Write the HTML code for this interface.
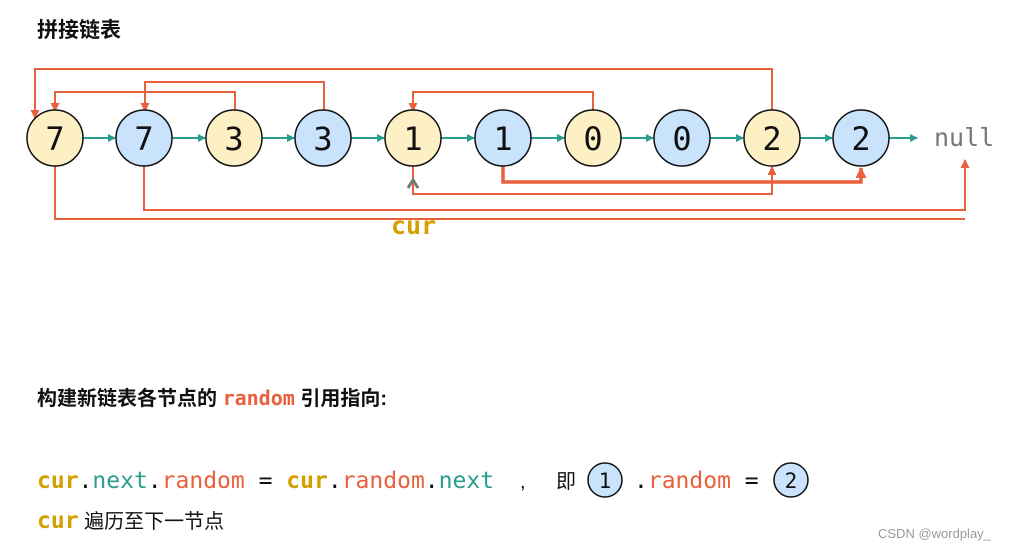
<!DOCTYPE html>
<html><head><meta charset="utf-8"><style>
html,body{margin:0;padding:0;background:#fff;}
svg{display:block;}
.m{font-family:"DejaVu Sans Mono","Liberation Mono",monospace;}
.c{font-family:"Liberation Sans","Noto Sans CJK SC",sans-serif;}
</style></head><body>
<svg width="1013" height="550" viewBox="0 0 1013 550" xmlns="http://www.w3.org/2000/svg">
<defs>
<marker id="g" markerWidth="8" markerHeight="8" refX="7" refY="4" orient="auto" markerUnits="userSpaceOnUse"><path d="M0,0 L8,4 L0,8z" fill="#2a9d8f"/></marker>
<marker id="r" markerWidth="9" markerHeight="9" refX="8" refY="4.5" orient="auto" markerUnits="userSpaceOnUse"><path d="M0,0 L9,4.5 L0,9z" fill="#e8603c"/></marker>
<marker id="rb" markerWidth="11" markerHeight="11" refX="10" refY="5.5" orient="auto" markerUnits="userSpaceOnUse"><path d="M0,0 L11,5.5 L0,11z" fill="#e8603c"/></marker>
</defs>
<text x="37" y="37" class="c" font-size="21" font-weight="bold" fill="#111">拼接链表</text>
<g fill="none" stroke="#e8603c" stroke-width="2">
<path d="M772,110 V69 H35 V118" marker-end="url(#r)"/>
<path d="M324,110 V82 H145 V111" marker-end="url(#r)"/>
<path d="M235,110 V92 H55 V111" marker-end="url(#r)"/>
<path d="M593,110 V92 H413 V111" marker-end="url(#r)"/>
<path d="M413,166 V194 H772 V167" marker-end="url(#r)"/>
<path d="M144,166 V210 H965 V160" marker-end="url(#r)"/>
<path d="M55,166 V219 H965"/>
<path d="M503,166 V182 H861 V168" stroke-width="3.5" marker-end="url(#rb)"/>
</g>
<path d="M408,188 L413,180 L418,188" fill="none" stroke="#777" stroke-width="3"/>
<g stroke="#2a9d8f" stroke-width="2">
<line x1="83" y1="138" x2="115" y2="138" marker-end="url(#g)"/>
<line x1="172" y1="138" x2="205" y2="138" marker-end="url(#g)"/>
<line x1="262" y1="138" x2="294" y2="138" marker-end="url(#g)"/>
<line x1="351" y1="138" x2="384" y2="138" marker-end="url(#g)"/>
<line x1="441" y1="138" x2="474" y2="138" marker-end="url(#g)"/>
<line x1="531" y1="138" x2="564" y2="138" marker-end="url(#g)"/>
<line x1="621" y1="138" x2="653" y2="138" marker-end="url(#g)"/>
<line x1="710" y1="138" x2="743" y2="138" marker-end="url(#g)"/>
<line x1="800" y1="138" x2="832" y2="138" marker-end="url(#g)"/>
<line x1="889" y1="138" x2="917" y2="138" marker-end="url(#g)"/>
</g>
<g stroke="#111" stroke-width="1.5">
<circle cx="55" cy="138" r="28" fill="#fdf0c4"/>
<circle cx="144" cy="138" r="28" fill="#c8e3fb"/>
<circle cx="234" cy="138" r="28" fill="#fdf0c4"/>
<circle cx="323" cy="138" r="28" fill="#c8e3fb"/>
<circle cx="413" cy="138" r="28" fill="#fdf0c4"/>
<circle cx="503" cy="138" r="28" fill="#c8e3fb"/>
<circle cx="593" cy="138" r="28" fill="#fdf0c4"/>
<circle cx="682" cy="138" r="28" fill="#c8e3fb"/>
<circle cx="772" cy="138" r="28" fill="#fdf0c4"/>
<circle cx="861" cy="138" r="28" fill="#c8e3fb"/>
</g>
<g class="m" font-size="32" fill="#111" text-anchor="middle">
<text x="55" y="150">7</text><text x="144" y="150">7</text>
<text x="234" y="150">3</text><text x="323" y="150">3</text>
<text x="413" y="150">1</text><text x="503" y="150">1</text>
<text x="593" y="150">0</text><text x="682" y="150">0</text>
<text x="772" y="150">2</text><text x="861" y="150">2</text>
</g>
<text x="934" y="146" class="m" font-size="25" fill="#777">null</text>
<text x="391" y="234" class="m" font-size="25" font-weight="bold" fill="#d4a000">cur</text>
<text x="37" y="405" class="c" font-size="20" font-weight="600" fill="#111">构建新链表各节点的 <tspan class="m" font-weight="bold" fill="#e8603c">random</tspan> 引用指向:</text>
<text x="37" y="488" class="m" font-size="23"><tspan fill="#d4a000" font-weight="bold">cur</tspan><tspan fill="#111">.</tspan><tspan fill="#2a9d8f">next</tspan><tspan fill="#111">.</tspan><tspan fill="#e8603c">random</tspan><tspan fill="#111"> = </tspan><tspan fill="#d4a000" font-weight="bold">cur</tspan><tspan fill="#111">.</tspan><tspan fill="#e8603c">random</tspan><tspan fill="#111">.</tspan><tspan fill="#2a9d8f">next</tspan></text>
<text x="520" y="488" class="c" font-size="20" fill="#111">,</text>
<text x="556" y="488" class="c" font-size="20" fill="#111">即</text>
<circle cx="605" cy="480" r="17" fill="#c8e3fb" stroke="#111" stroke-width="1.5"/>
<text x="605" y="488" class="m" font-size="21" fill="#111" text-anchor="middle">1</text>
<text x="634" y="488" class="m" font-size="23"><tspan fill="#111">.</tspan><tspan fill="#e8603c">random</tspan><tspan fill="#111"> = </tspan></text>
<circle cx="791" cy="480" r="17" fill="#c8e3fb" stroke="#111" stroke-width="1.5"/>
<text x="791" y="488" class="m" font-size="21" fill="#111" text-anchor="middle">2</text>
<text x="37" y="528" class="c" font-size="20" fill="#111"><tspan class="m" font-size="23" font-weight="bold" fill="#d4a000">cur</tspan> 遍历至下一节点</text>
<text x="878" y="538" class="c" font-size="13" fill="#999">CSDN @wordplay_</text>
</svg>
</body></html>
